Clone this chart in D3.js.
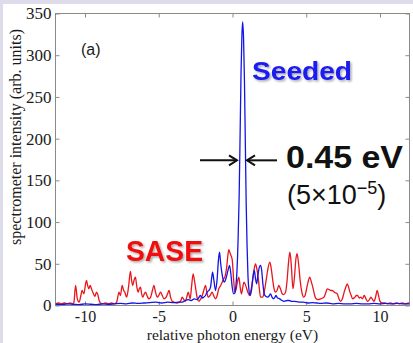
<!DOCTYPE html>
<html>
<head>
<meta charset="utf-8">
<script src="https://cdn.jsdelivr.net/npm/d3@7"></script>
<style>
  html, body { margin: 0; padding: 0; background: #dcdcea; }
  svg { display: block; }
</style>
</head>
<body>
<svg id="chart" width="413" height="343"></svg>
<script>
// spectra: [relative photon energy (eV), intensity (arb. units)]
const saseSpectrum = [
  [-12.0, 2], [-11.8, 3], [-11.6, 2], [-11.4, 3], [-11.2, 2], [-11.0, 3], [-10.85, 2], [-10.75, 4],
  [-10.64, 24], [-10.52, 8], [-10.4, 4], [-10.28, 12], [-10.2, 18], [-10.08, 14], [-9.96, 26], [-9.9, 30],
  [-9.82, 24], [-9.74, 20], [-9.65, 24], [-9.56, 20], [-9.45, 15], [-9.33, 11], [-9.22, 16], [-9.13, 13],
  [-9.04, 6], [-8.95, 3], [-8.8, 2], [-8.6, 3], [-8.4, 2], [-8.2, 3], [-8.0, 2], [-7.85, 4],
  [-7.7, 16], [-7.6, 12], [-7.48, 24], [-7.38, 18], [-7.3, 16], [-7.18, 10], [-7.05, 22], [-6.92, 41],
  [-6.84, 30], [-6.76, 24], [-6.68, 30], [-6.58, 34], [-6.5, 24], [-6.4, 16], [-6.32, 20], [-6.24, 22],
  [-6.16, 14], [-6.08, 10], [-5.98, 14], [-5.9, 16], [-5.8, 12], [-5.67, 8], [-5.55, 10], [-5.43, 18],
  [-5.33, 24], [-5.22, 16], [-5.1, 10], [-5.0, 12], [-4.88, 16], [-4.76, 12], [-4.65, 8], [-4.5, 10],
  [-4.4, 14], [-4.3, 18], [-4.2, 10], [-4.09, 5], [-3.95, 4], [-3.8, 3], [-3.6, 4], [-3.5, 6],
  [-3.41, 10], [-3.3, 7], [-3.2, 5], [-3.1, 10], [-3.0, 16], [-2.92, 11], [-2.87, 8], [-2.78, 22],
  [-2.67, 38], [-2.58, 30], [-2.46, 16], [-2.38, 8], [-2.28, 5], [-2.15, 8], [-2.05, 12], [-1.95, 18],
  [-1.83, 24], [-1.74, 16], [-1.65, 10], [-1.52, 12], [-1.38, 16], [-1.26, 11], [-1.15, 8], [-1.04, 12],
  [-0.93, 20], [-0.8, 24], [-0.7, 28], [-0.6, 32], [-0.52, 34], [-0.4, 45], [-0.3, 62], [-0.25, 67],
  [-0.15, 62], [-0.02, 55], [0.08, 30], [0.16, 16], [0.25, 20], [0.35, 30], [0.43, 34], [0.52, 22],
  [0.61, 14], [0.7, 22], [0.77, 28], [0.85, 26], [0.93, 22], [1.04, 16], [1.15, 12], [1.25, 18],
  [1.34, 28], [1.45, 42], [1.56, 50], [1.65, 44], [1.74, 34], [1.82, 20], [1.9, 10], [2.05, 10],
  [2.15, 16], [2.28, 30], [2.4, 44], [2.53, 52], [2.63, 44], [2.73, 30], [2.82, 20], [2.92, 16],
  [3.02, 18], [3.14, 24], [3.25, 20], [3.37, 14], [3.48, 13], [3.6, 16], [3.7, 30], [3.8, 52],
  [3.89, 64], [3.98, 50], [4.1, 20], [4.2, 34], [4.3, 56], [4.38, 62], [4.48, 50], [4.6, 28],
  [4.7, 16], [4.83, 10], [4.92, 12], [5.0, 18], [5.12, 28], [5.24, 34], [5.35, 28], [5.47, 20],
  [5.57, 12], [5.67, 8], [5.8, 7], [5.97, 8], [6.1, 9], [6.2, 10], [6.3, 14], [6.42, 20],
  [6.55, 19], [6.68, 18], [6.76, 18], [6.9, 16], [7.0, 15], [7.1, 14], [7.2, 9], [7.32, 5],
  [7.45, 8], [7.57, 16], [7.68, 22], [7.78, 26], [7.87, 22], [7.96, 16], [8.05, 12], [8.14, 8],
  [8.3, 10], [8.4, 12], [8.48, 12], [8.6, 9], [8.7, 10], [8.8, 8], [8.93, 12], [9.05, 8],
  [9.16, 5], [9.28, 7], [9.38, 10], [9.5, 7], [9.6, 5], [9.7, 10], [9.81, 18], [9.9, 12],
  [10.0, 5], [10.15, 3], [10.3, 3], [10.5, 2], [10.7, 3], [10.9, 2], [11.1, 3], [11.3, 2],
  [11.5, 3], [11.7, 2], [12.0, 3],
];

const seededSpectrum = [
  [-12.0, 1.5], [-11.6, 1], [-11.2, 2], [-10.8, 1.5], [-10.4, 1], [-10.0, 2], [-9.6, 1.5], [-9.2, 1],
  [-8.8, 2], [-8.4, 1.5], [-8.0, 2], [-7.6, 2.5], [-7.2, 2], [-6.8, 3], [-6.4, 2.5], [-6.0, 3],
  [-5.6, 3.5], [-5.2, 4], [-4.8, 3], [-4.4, 4], [-4.0, 3.5], [-3.6, 4], [-3.4, 4], [-3.2, 6],
  [-3.0, 7], [-2.8, 6], [-2.6, 8], [-2.4, 7], [-2.17, 12], [-2.05, 9], [-1.95, 10], [-1.83, 12],
  [-1.72, 16], [-1.6, 18], [-1.49, 22], [-1.42, 32], [-1.35, 40], [-1.26, 30], [-1.15, 18], [-1.05, 30],
  [-0.95, 55], [-0.88, 64], [-0.8, 50], [-0.7, 37], [-0.62, 30], [-0.55, 28], [-0.45, 32], [-0.36, 38],
  [-0.28, 44], [-0.2, 48], [-0.1, 36], [-0.02, 22], [0.08, 14], [0.16, 15], [0.22, 22], [0.3, 40],
  [0.38, 80], [0.45, 130], [0.52, 210], [0.58, 280], [0.64, 325], [0.69, 340], [0.75, 320], [0.81, 270],
  [0.87, 195], [0.93, 120], [0.99, 70], [1.05, 35], [1.12, 18], [1.2, 12], [1.3, 20], [1.4, 35],
  [1.48, 42], [1.56, 32], [1.64, 26], [1.72, 36], [1.82, 46], [1.9, 48], [1.98, 42], [2.06, 26],
  [2.15, 14], [2.25, 11], [2.4, 10], [2.5, 12], [2.58, 14], [2.68, 10], [2.78, 8], [2.88, 10],
  [2.95, 12], [3.05, 9], [3.2, 8], [3.35, 6], [3.5, 5], [3.7, 6], [3.85, 6], [4.0, 5],
  [4.2, 5], [4.5, 4], [4.8, 4], [5.1, 3], [5.4, 3.5], [5.7, 3], [6.0, 2.5], [6.4, 3],
  [6.8, 2], [7.2, 2.5], [7.6, 2], [8.0, 2], [8.4, 2.5], [8.8, 2], [9.2, 2], [9.6, 2.5],
  [10.0, 2], [10.4, 2.5], [10.8, 2], [11.2, 2.5], [11.6, 2], [12.0, 2],
];

const energyDomain = [-12, 12];
const intensityDomain = [0, 350];
const energyTicks = [-10, -5, 0, 5, 10];
const intensityTicks = [0, 50, 100, 150, 200, 250, 300, 350];

const margin = { left: 55.5, top: 13.5, right: 409.5, bottom: 305.5 };
const serif = '"Liberation Serif", "Times New Roman", serif';
const sans = '"Liberation Sans", Arial, sans-serif';

const svg = d3.select('#chart');

svg.append('rect').attr('x', 3).attr('y', 4).attr('width', 410).attr('height', 339).attr('fill', '#ffffff');

const defs = svg.append('defs');
defs.append('clipPath').attr('id', 'plot-clip')
  .append('rect')
  .attr('x', margin.left).attr('y', margin.top)
  .attr('width', margin.right - margin.left).attr('height', margin.bottom - margin.top);

const shadow = defs.append('filter').attr('id', 'soft-shadow')
  .attr('x', '-10%').attr('y', '-10%').attr('width', '130%').attr('height', '140%');
shadow.append('feDropShadow')
  .attr('dx', 1.5).attr('dy', 1.5).attr('stdDeviation', 1)
  .attr('flood-color', '#000').attr('flood-opacity', 0.35);

const x = d3.scaleLinear().domain(energyDomain).range([margin.left, margin.right]);
const y = d3.scaleLinear().domain(intensityDomain).range([margin.bottom, margin.top]);

// axes box, MATLAB style: ticks inside on all four sides
const axisColor = '#8a8a8a';

function styleAxis(g, showLabels) {
  g.select('.domain').remove();
  g.selectAll('.tick line').attr('stroke', axisColor);
  g.selectAll('.tick text')
    .attr('fill', showLabels ? '#1a1a1a' : 'none')
    .attr('font-family', serif)
    .attr('font-size', 17);
}

svg.append('g')
  .attr('transform', `translate(0,${margin.bottom})`)
  .call(d3.axisBottom(x).tickValues(energyTicks).tickSizeInner(-4).tickPadding(5)
    .tickFormat((d) => (d < 0 ? `-${Math.abs(d)}` : `${d}`)))
  .call((g) => styleAxis(g, true))
  .call((g) => g.selectAll('.tick text').attr('font-size', 16));

svg.append('g')
  .attr('transform', `translate(0,${margin.top})`)
  .call(d3.axisTop(x).tickValues(energyTicks).tickSizeInner(-4).tickFormat(''))
  .call((g) => styleAxis(g, false));

svg.append('g')
  .attr('transform', `translate(${margin.left},0)`)
  .call(d3.axisLeft(y).tickValues(intensityTicks).tickSizeInner(-4).tickPadding(4))
  .call((g) => styleAxis(g, true));

svg.append('g')
  .attr('transform', `translate(${margin.right},0)`)
  .call(d3.axisRight(y).tickValues(intensityTicks).tickSizeInner(-4).tickFormat(''))
  .call((g) => styleAxis(g, false));

svg.append('rect')
  .attr('x', margin.left).attr('y', margin.top)
  .attr('width', margin.right - margin.left).attr('height', margin.bottom - margin.top)
  .attr('fill', 'none').attr('stroke', axisColor).attr('stroke-width', 1);

const line = d3.line()
  .x((d) => x(d[0]))
  .y((d) => y(d[1]))
  .curve(d3.curveMonotoneX);

const plot = svg.append('g').attr('clip-path', 'url(#plot-clip)');

plot.append('path')
  .datum(saseSpectrum)
  .attr('d', line)
  .attr('fill', 'none')
  .attr('stroke', '#e8161c')
  .attr('stroke-width', 1.3)
  .attr('stroke-linejoin', 'round');

plot.append('path')
  .datum(seededSpectrum)
  .attr('d', line)
  .attr('fill', 'none')
  .attr('stroke', '#1414e6')
  .attr('stroke-width', 1.3)
  .attr('stroke-linejoin', 'round');

// axis titles
svg.append('text')
  .attr('x', x(0))
  .attr('y', 340)
  .attr('text-anchor', 'middle')
  .attr('font-family', serif)
  .attr('font-size', 15.5)
  .attr('fill', '#1a1a1a')
  .text('relative photon energy (eV)');

svg.append('text')
  .attr('transform', 'translate(21,137) rotate(-90)')
  .attr('text-anchor', 'middle')
  .attr('font-family', serif)
  .attr('font-size', 16)
  .attr('fill', '#1a1a1a')
  .text('spectrometer intensity (arb. units)');

svg.append('text')
  .attr('x', 81).attr('y', 55)
  .attr('font-family', sans)
  .attr('font-size', 16)
  .attr('fill', '#1a1a1a')
  .text('(a)');

// series labels
svg.append('text')
  .attr('x', 252).attr('y', 80)
  .attr('font-family', sans).attr('font-weight', 'bold')
  .attr('font-size', 26)
  .attr('textLength', 100).attr('lengthAdjust', 'spacingAndGlyphs')
  .attr('fill', '#1a1af0')
  .attr('filter', 'url(#soft-shadow)')
  .text('Seeded');

svg.append('text')
  .attr('x', 126).attr('y', 261)
  .attr('font-family', sans).attr('font-weight', 'bold')
  .attr('font-size', 29)
  .attr('textLength', 77).attr('lengthAdjust', 'spacingAndGlyphs')
  .attr('fill', '#f01010')
  .attr('filter', 'url(#soft-shadow)')
  .text('SASE');

// bandwidth marker
const arrowY = y(174);
const arrows = svg.append('g').attr('stroke', '#111').attr('stroke-width', 2).attr('fill', 'none');
arrows.append('line').attr('x1', 200).attr('y1', arrowY).attr('x2', 237).attr('y2', arrowY);
arrows.append('path').attr('d', `M${229},${arrowY - 5} L${237},${arrowY} L${229},${arrowY + 5}`);
arrows.append('line').attr('x1', 247).attr('y1', arrowY).attr('x2', 277).attr('y2', arrowY);
arrows.append('path').attr('d', `M${255},${arrowY - 5} L${247},${arrowY} L${255},${arrowY + 5}`);

svg.append('text')
  .attr('x', 286).attr('y', 168)
  .attr('font-family', sans).attr('font-weight', 'bold')
  .attr('font-size', 32)
  .attr('textLength', 117).attr('lengthAdjust', 'spacingAndGlyphs')
  .attr('fill', '#111')
  .text('0.45 eV');

const ratio = svg.append('text')
  .attr('x', 287).attr('y', 204)
  .attr('font-family', sans)
  .attr('font-size', 27)
  .attr('fill', '#111');
ratio.append('tspan').text('(5×10');
ratio.append('tspan').attr('font-size', 18).attr('dy', -10).text('−5');
ratio.append('tspan').attr('dy', 10).text(')');
</script>
</body>
</html>
